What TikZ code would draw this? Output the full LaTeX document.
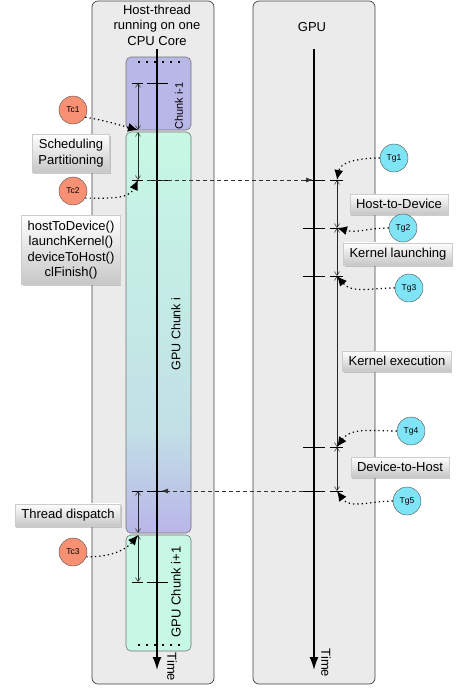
\documentclass[tikz,border=0pt]{standalone}
\usepackage{fontspec}
\setmainfont{Liberation Sans}
\usetikzlibrary{arrows.meta,shadows}
\definecolor{panelgray}{HTML}{EBEBEB}
\definecolor{chunkpurple}{HTML}{B9B6E8}
\definecolor{chunkmint}{HTML}{C6F8E4}
\definecolor{chunkblue}{HTML}{C2E0E6}
\definecolor{tcred}{HTML}{F89174}
\definecolor{tgcyan}{HTML}{7EE4F6}
\tikzset{
  panel/.style={draw=black!75,fill=panelgray,rounded corners=6pt,line width=0.7pt},
  chunk/.style={draw=black!55,rounded corners=5pt,line width=0.6pt},
  timeline/.style={line width=1.6pt,-{Latex[length=13pt,width=9pt]}},
  span/.style={{Straight Barb[length=4pt,width=5pt]}-{Straight Barb[length=4pt,width=5pt]},line width=0.5pt,black!85},
  tick/.style={line width=0.6pt},
  xfer/.style={dash pattern=on 4pt off 3pt,black!80,line width=0.7pt,-{Latex[length=7pt,width=5pt]}},
  tc/.style={circle,draw=black!70,fill=tcred,minimum size=28pt,inner sep=0pt,font=\fontsize{8.5}{9}\selectfont},
  tg/.style={tc,fill=tgcyan},
  hint/.style={dash pattern=on 1.3pt off 3pt,line width=1.2pt,-{Latex[length=10pt,width=9pt]}},
  lbl/.style={draw=black!20,top color=white,bottom color=black!22,drop shadow={opacity=0.4,shadow xshift=1pt,shadow yshift=-2pt},align=center,inner xsep=6pt,inner ysep=5pt}
}
\begin{document}
\begin{tikzpicture}[x=1pt,y=-1pt,font=\fontsize{13}{15.5}\selectfont]
\useasboundingbox (0,0) rectangle (456,689);
% the two lanes
\draw[panel] (92,1) rectangle (214,684);
\draw[panel] (253,1) rectangle (375,684);
\node[align=center] (host) at (157,25) {Host-thread\\running on one\\CPU Core};
\node (gpu) at (312,27) {GPU};
% chunks on the host thread
\draw[chunk,fill=chunkpurple] (126,57) rectangle (191,130);
\begin{scope}
\clip[rounded corners=5pt] (126,132) rectangle (191,533);
\shade[top color=chunkmint,bottom color=chunkblue] (126,132) rectangle (191,430);
\shade[top color=chunkblue,bottom color=chunkpurple] (126,430) rectangle (191,533);
\end{scope}
\draw[chunk] (126,132) rectangle (191,533);
\draw[chunk,fill=chunkmint] (126,535) rectangle (191,651);
\draw[line width=2pt,dash pattern=on 2pt off 6pt] (138,62) -- (184,62) (138,645) -- (184,645);
\node[rotate=90,font=\fontsize{11}{12}\selectfont] (cprev) at (179,106) {Chunk i-1};
\node[rotate=90,font=\fontsize{12.5}{14}\selectfont] (ccur) at (176,334) {GPU Chunk i};
\node[rotate=90] (cnext) at (176,592) {GPU Chunk i+1};
% time axes
\coordinate (hs) at (157,49); \coordinate (he) at (157,670);
\coordinate (gs) at (314,49); \coordinate (ge) at (314,670);
\draw[timeline] (hs) -- (he);
\draw[timeline] (gs) -- (ge);
\node[rotate=-90] (htime) at (172,667) {Time};
\node[rotate=-90] (gtime) at (326,663) {Time};
% ticks
\foreach \y in {83,180,491,582}
  \draw[tick] (132,\y) -- (143,\y) (147,\y) -- (168,\y);
\foreach \y in {180,228,276,447,491}
  \draw[tick] (303,\y) -- (325,\y) (330,\y) -- (343,\y);
% spans
\coordinate (h0) at (138,83); \coordinate (h1) at (138,130);
\coordinate (h2) at (138,132); \coordinate (h3) at (138,180);
\coordinate (h4) at (138,491); \coordinate (h5) at (138,533);
\coordinate (h6) at (138,535); \coordinate (h7) at (138,582);
\draw[span] (h0) -- (h1);
\draw[span] (h2) -- (h3);
\draw[span] (h4) -- (h5);
\draw[span] (h6) -- (h7);
\coordinate (g0) at (337,180); \coordinate (g1) at (337,228);
\coordinate (g2) at (337,276); \coordinate (g3) at (337,447);
\coordinate (g4) at (337,491);
\draw[span] (g0) -- (g1);
\draw[span] (g1) -- (g2);
\draw[span] (g2) -- (g3);
\draw[span] (g3) -- (g4);
% host <-> gpu
\coordinate (sendh) at (147,180); \coordinate (sendg) at (313,180);
\coordinate (backg) at (303,491); \coordinate (backh) at (161,491);
\draw[xfer] (sendh) -- (sendg);
\draw[xfer] (backg) -- (backh);
% labels
\node[lbl] (sched) at (71,153) {Scheduling\\Partitioning};
\node[lbl] (api) at (71,250) {hostToDevice()\\launchKernel()\\deviceToHost()\\clFinish()};
\node[lbl] (disp) at (68,515) {Thread dispatch};
\node[lbl] (h2d) at (399,204) {Host-to-Device};
\node[lbl] (klaunch) at (398,254) {Kernel launching};
\node[lbl] (kexec) at (397,361) {Kernel execution};
\node[lbl] (d2h) at (400,467) {Device-to-Host};
% timestamps
\node[tc] (tc1) at (73,110) {Tc1};
\node[tc] (tc2) at (73,191) {Tc2};
\node[tc] (tc3) at (73,552) {Tc3};
\node[tg] (tg1) at (394,158) {Tg1};
\node[tg] (tg2) at (403,228) {Tg2};
\node[tg] (tg3) at (409,288) {Tg3};
\node[tg] (tg4) at (411,431) {Tg4};
\node[tg] (tg5) at (407,501) {Tg5};
\draw[hint] (tc1.-30) to[out=-10,in=165] (h1);
\draw[hint] (tc2.-30) to[out=0,in=-115] (h3);
\draw[hint] (tc3.-20) to[out=0,in=-130] (h6);
\draw[hint] (tg1.west) to[out=180,in=80] (g0);
\draw[hint] (tg2.west) to[out=180,in=-15] (g1);
\draw[hint] (tg3.west) to[out=180,in=-50] (g2);
\draw[hint] (tg4.west) to[out=180,in=55] (g3);
\draw[hint] (tg5.west) to[out=180,in=-55] (g4);
\end{tikzpicture}
\end{document}
